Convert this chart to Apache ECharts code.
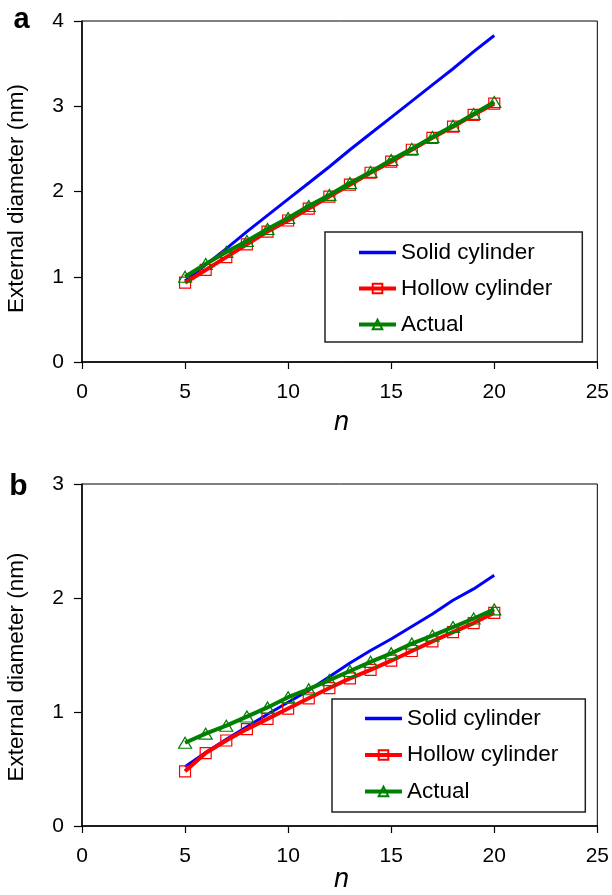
<!DOCTYPE html>
<html>
<head>
<meta charset="utf-8">
<script src="https://cdn.jsdelivr.net/npm/echarts@6/dist/echarts.min.js"></script>
<style>html,body{margin:0;padding:0;background:#fff;}#c{width:612px;height:895px;}</style>
</head>
<body>
<div id="c"></div>
<script>
// ---- data ----
const nValues = [5, 6, 7, 8, 9, 10, 11, 12, 13, 14, 15, 16, 17, 18, 19, 20];
const seriesNames = ['Solid cylinder', 'Hollow cylinder', 'Actual'];

const aSolid  = [0.95, 1.14, 1.33, 1.53, 1.72, 1.91, 2.10, 2.29, 2.49, 2.68, 2.87, 3.06, 3.25, 3.44, 3.64, 3.83];
const aHollow = [0.93, 1.08, 1.23, 1.38, 1.53, 1.66, 1.80, 1.94, 2.08, 2.22, 2.35, 2.49, 2.63, 2.76, 2.90, 3.03];
const aActual = [1.00, 1.15, 1.29, 1.42, 1.56, 1.69, 1.83, 1.96, 2.10, 2.23, 2.37, 2.50, 2.64, 2.77, 2.91, 3.05];

const bSolid  = [0.52, 0.645, 0.76, 0.87, 0.98, 1.085, 1.19, 1.31, 1.43, 1.54, 1.64, 1.75, 1.86, 1.98, 2.08, 2.20];
const bHollow = [0.48, 0.64, 0.75, 0.85, 0.94, 1.03, 1.12, 1.21, 1.295, 1.37, 1.45, 1.535, 1.62, 1.70, 1.78, 1.87];
const bActual = [0.73, 0.81, 0.88, 0.96, 1.04, 1.13, 1.20, 1.28, 1.36, 1.44, 1.515, 1.60, 1.67, 1.745, 1.82, 1.90];

const xAxisRange = [0, 25];      // ticks 0,5,10,15,20,25
const xTickStep = 5;
const aYRange = [0, 4];           // ticks 0..4
const bYRange = [0, 3];           // ticks 0..3
const yTickStep = 1;
const panelLabels = ['a', 'b'];
const xTitle = 'n';
const yTitle = 'External diameter (nm)';

// ---- chart ----
const FONT = '"Liberation Sans", Arial, sans-serif';
const COLORS = ['#0000FF', '#FF0000', '#008000'];
const pair = (xs, ys) => xs.map((x, i) => [x, ys[i]]);

function xAxisCfg(gi) {
  return {
    gridIndex: gi, type: 'value', min: xAxisRange[0], max: xAxisRange[1], interval: xTickStep,
    axisLine: { show: true, onZero: false, lineStyle: { color: '#000', width: 1.5 } },
    axisTick: { show: true, length: 7, lineStyle: { color: '#000', width: 1.2 } },
    axisLabel: { color: '#000', fontSize: 21, fontFamily: FONT, margin: 20 },
    splitLine: { show: false }
  };
}
function yAxisCfg(gi, rng) {
  return {
    gridIndex: gi, type: 'value', min: rng[0], max: rng[1], interval: yTickStep,
    axisLine: { show: true, onZero: false, lineStyle: { color: '#000', width: 1.5 } },
    axisTick: { show: true, length: 8, lineStyle: { color: '#000', width: 1.2 } },
    axisLabel: { color: '#000', fontSize: 21, fontFamily: FONT, margin: 18 },
    splitLine: { show: false }
  };
}
function seriesSet(gi, solid, hollow, actual) {
  return [
    { name: seriesNames[0], type: 'line', xAxisIndex: gi, yAxisIndex: gi, data: pair(nValues, solid),
      symbol: 'none', lineStyle: { color: COLORS[0], width: 3 }, itemStyle: { color: COLORS[0] }, z: 2 },
    { name: seriesNames[1], type: 'line', xAxisIndex: gi, yAxisIndex: gi, data: pair(nValues, hollow),
      symbol: 'rect', symbolSize: 11, showAllSymbol: true,
      lineStyle: { color: COLORS[1], width: 4 },
      itemStyle: { color: 'rgba(255,255,255,0)', borderColor: COLORS[1], borderWidth: 1.2 }, z: 3 },
    { name: seriesNames[2], type: 'line', xAxisIndex: gi, yAxisIndex: gi, data: pair(nValues, actual),
      symbol: 'triangle', symbolSize: [13, 11], showAllSymbol: true,
      lineStyle: { color: COLORS[2], width: 4 },
      itemStyle: { color: 'rgba(255,255,255,0)', borderColor: COLORS[2], borderWidth: 1.2 }, z: 4 }
  ];
}
const legendData = [
  { name: seriesNames[0], itemStyle: { color: 'rgba(0,0,0,0)', borderWidth: 0 }, lineStyle: { color: COLORS[0], width: 3.5 } },
  { name: seriesNames[1], lineStyle: { color: COLORS[1], width: 4 } },
  { name: seriesNames[2], lineStyle: { color: COLORS[2], width: 4 } }
];
function legendCfg(left, top, padding, gap) {
  return {
    left: left, top: top, orient: 'vertical', padding: padding, itemGap: gap,
    itemWidth: 37, itemHeight: 12,
    backgroundColor: '#fff', borderColor: '#222', borderWidth: 1.5, borderRadius: 0,
    textStyle: { color: '#000', fontSize: 22.5, fontFamily: FONT, lineHeight: 22 },
    selectedMode: false, data: legendData
  };
}

const chart = echarts.init(document.getElementById('c'), null, { renderer: 'canvas' });
const allSeries = seriesSet(0, aSolid, aHollow, aActual).concat(seriesSet(1, bSolid, bHollow, bActual));

const option = {
  backgroundColor: '#fff',
  animation: false,
  grid: [
    { left: 82, top: 21, width: 519, height: 341, show: true, borderColor: '#000', borderWidth: 1, backgroundColor: 'transparent' },
    { left: 82, top: 484, width: 516, height: 342, show: true, borderColor: '#000', borderWidth: 1, backgroundColor: 'transparent' }
  ],
  xAxis: [xAxisCfg(0), xAxisCfg(1)],
  yAxis: [yAxisCfg(0, aYRange), yAxisCfg(1, bYRange)],
  legend: [
    legendCfg(325, 232, [9, 30, 6, 32], 13),
    legendCfg(332, 699, [8, 27, 9, 31], 13.5)
  ],
  series: allSeries,
  graphic: [
    { type: 'text', x: 21.5, y: 20, silent: true,
      style: { text: panelLabels[0], font: 'bold 29px ' + FONT, fill: '#000', align: 'center', verticalAlign: 'middle' } },
    { type: 'text', x: 18.3, y: 487, silent: true,
      style: { text: panelLabels[1], font: 'bold 30px ' + FONT, fill: '#000', align: 'center', verticalAlign: 'middle' } },
    { type: 'text', x: 341.5, y: 422.5, silent: true,
      style: { text: xTitle, font: 'italic 27px ' + FONT, fill: '#000', align: 'center', verticalAlign: 'middle' } },
    { type: 'text', x: 341.5, y: 879, silent: true,
      style: { text: xTitle, font: 'italic 27px ' + FONT, fill: '#000', align: 'center', verticalAlign: 'middle' } },
    { type: 'text', x: 17, y: 198.5, rotation: Math.PI / 2, silent: true,
      style: { text: yTitle, font: '22.5px ' + FONT, fill: '#000', align: 'center', verticalAlign: 'middle' } },
    { type: 'text', x: 16.5, y: 667, rotation: Math.PI / 2, silent: true,
      style: { text: yTitle, font: '22.5px ' + FONT, fill: '#000', align: 'center', verticalAlign: 'middle' } }
  ]
};
chart.setOption(option);
</script>
</body>
</html>
